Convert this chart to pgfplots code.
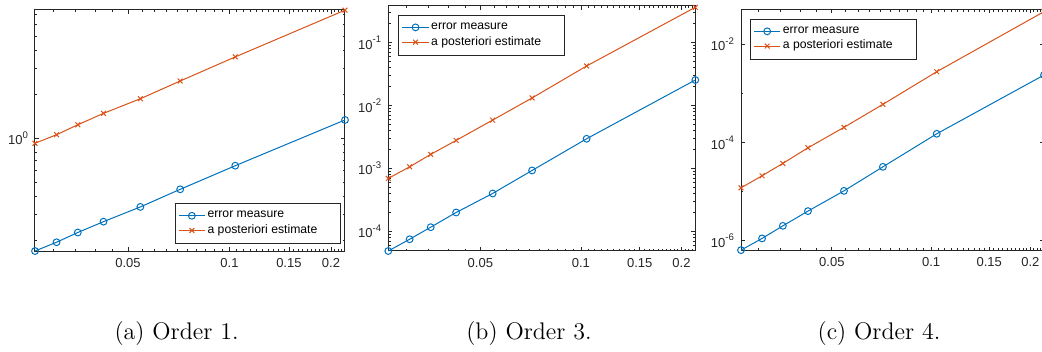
\documentclass[border=0pt]{standalone}
\usepackage{fontspec}
\usepackage{pgfplots}
\pgfplotsset{compat=1.18}
\newfontfamily\helv{Liberation Sans}
\definecolor{mblue}{rgb}{0,0.447,0.741}
\definecolor{morange}{rgb}{0.85,0.325,0.098}
\definecolor{axgray}{rgb}{0.15,0.15,0.15}

\pgfplotstableread{
h err est
0.0265 0.168 0.92
0.0307 0.193 1.054
0.0355 0.225 1.233
0.0423 0.267 1.476
0.0544 0.337 1.86
0.0714 0.445 2.46
0.104 0.646 3.6
0.220 1.33 7.53
}\dataA
\pgfplotstableread{
h err est
0.0265 4.85e-5 6.92e-4
0.0307 7.46e-5 1.06e-3
0.0355 1.16e-4 1.67e-3
0.0423 1.99e-4 2.79e-3
0.0544 3.99e-4 5.87e-3
0.0714 9.27e-4 1.32e-2
0.104 2.96e-3 4.26e-2
0.220 2.55e-2 0.366
}\dataB
\pgfplotstableread{
h err est
0.0265 6.47e-7 1.20e-5
0.0307 1.12e-6 2.11e-5
0.0355 2.02e-6 3.77e-5
0.0423 4.03e-6 7.83e-5
0.0544 1.04e-5 2.04e-4
0.0714 3.21e-5 6.0e-4
0.104 1.51e-4 2.77e-3
0.220 2.37e-3 4.62e-2
}\dataC

\newcommand{\lfont}{\helv\fontsize{6.1}{7}\selectfont}
\newcommand{\tfont}{\helv\fontsize{6.5}{7.5}\selectfont}
\newcommand{\ex}[1]{10\raisebox{0.5em}{\fontsize{4.8}{5}\selectfont #1}}

\begin{document}
\begin{tikzpicture}
\path[use as bounding box] (0,0) rectangle (521pt,-176pt);
\pgfplotsset{
  every axis/.append style={
    scale only axis, clip=false,
    xmin=0.0265, xmax=0.220,
    axis line style={axgray, line width=0.5pt},
    tick style={axgray, line width=0.4pt},
    major tick length=2pt, minor tick length=1.2pt,
    tick align=inside,
    xtick={0.05,0.1,0.15,0.2},
    xticklabels={0.05,0.1,0.15,0.2},
    minor xtick={0.03,0.035,0.04,0.045,0.055,0.06,0.065,0.07,0.075,0.08,0.085,0.09,0.095,0.105,0.11,0.115,0.12,0.125,0.13,0.135,0.14,0.145,0.155,0.16,0.165,0.17,0.175,0.18,0.185,0.19,0.195,0.205,0.21,0.215},
    ticklabel style={font=\tfont, text=axgray},
    legend cell align=left,
  },
  every axis legend/.append style={font=\lfont, draw=axgray, line width=0.4pt,
      inner xsep=1.5pt, inner ysep=2.6pt, nodes={inner ysep=1pt, inner xsep=1pt}},
  legend image code/.code={\draw[mark repeat=2,mark phase=2] plot coordinates {(0pt,0pt)(6.6pt,0pt)(13.2pt,0pt)};},
  errstyle/.style={color=mblue, line width=0.5pt, mark=o, mark size=1.7pt, mark options={solid}},
  eststyle/.style={color=morange, line width=0.5pt, mark=x, mark size=1.7pt, mark options={solid}},
}

% (a)
\begin{loglogaxis}[at={(17.5pt,-5pt)}, anchor=north west, width=155pt, height=120.5pt,
  ymin=0.168, ymax=7.55,
  ytick={1}, yticklabels={\ex{0}},
  minor ytick={0.2,0.3,0.4,0.5,0.6,0.7,0.8,0.9,2,3,4,5,6,7},
  legend style={at={(0.987,0.029)}, anchor=south east}]
\addplot[errstyle] table[x=h,y=err] {\dataA};
\addlegendentry{\makebox[64pt][l]{error measure}}
\addplot[eststyle] table[x=h,y=est] {\dataA};
\addlegendentry{\makebox[64pt][l]{a posteriori estimate}}
\end{loglogaxis}

% (b)
\begin{loglogaxis}[at={(194.15pt,-2.85pt)}, anchor=north west, width=153.5pt, height=122.65pt,
  ymin=4.85e-5, ymax=0.388,
  ytick={1e-4,1e-3,1e-2,1e-1},
  yticklabels={\ex{-4},\ex{-3},\ex{-2},\ex{-1}},
  minor ytick={5e-5,6e-5,7e-5,8e-5,9e-5,2e-4,3e-4,4e-4,5e-4,6e-4,7e-4,8e-4,9e-4,2e-3,3e-3,4e-3,5e-3,6e-3,7e-3,8e-3,9e-3,2e-2,3e-2,4e-2,5e-2,6e-2,7e-2,8e-2,9e-2,2e-1,3e-1},
  legend style={at={(0.033,0.962)}, anchor=north west}]
\addplot[errstyle] table[x=h,y=err] {\dataB};
\addlegendentry{\makebox[64pt][l]{error measure}}
\addplot[eststyle] table[x=h,y=est] {\dataB};
\addlegendentry{\makebox[64pt][l]{a posteriori estimate}}
\end{loglogaxis}

% (c)
\begin{loglogaxis}[at={(370.5pt,-4.65pt)}, anchor=north west, width=151.5pt, height=120.7pt,
  ymin=6.3e-7, ymax=0.0516,
  ytick={1e-6,1e-4,1e-2},
  yticklabels={\ex{-6},\ex{-4},\ex{-2}},
  minor ytick={1e-5,1e-3},
  legend style={at={(0.030,0.96)}, anchor=north west}]
\addplot[errstyle] table[x=h,y=err] {\dataC};
\addlegendentry{\makebox[64pt][l]{error measure}}
\addplot[eststyle] table[x=h,y=est] {\dataC};
\addlegendentry{\makebox[64pt][l]{a posteriori estimate}}
\end{loglogaxis}

\node[anchor=base, font=\fontsize{12}{14}\selectfont] at (88.3pt,-169.5pt) {(a) Order 1.};
\node[anchor=base, font=\fontsize{12}{14}\selectfont] at (264.5pt,-169.5pt) {(b) Order 3.};
\node[anchor=base, font=\fontsize{12}{14}\selectfont] at (439.5pt,-169.5pt) {(c) Order 4.};
\end{tikzpicture}
\end{document}
